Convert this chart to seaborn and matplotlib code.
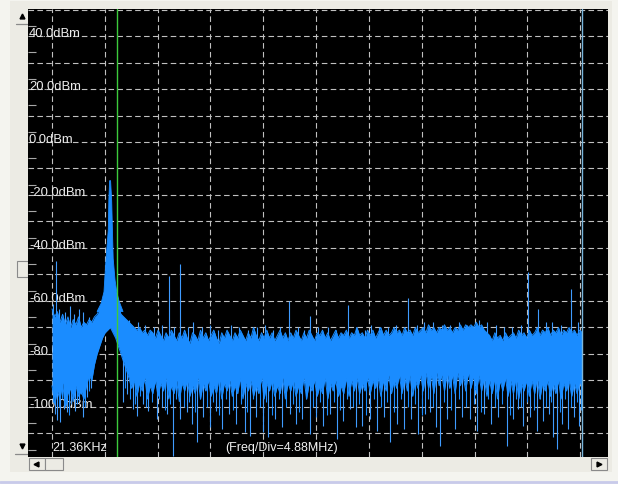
import numpy as np
import matplotlib
matplotlib.use("Agg")
import matplotlib.pyplot as plt
from matplotlib.patches import Rectangle
import seaborn as sns

# ---------------------------------------------------------------
# DATA  (MHz / dBm)
# ---------------------------------------------------------------
# Noise floor band, one bin every 0.245 MHz (0 .. 49 MHz)
band_freq = np.linspace(0, 49.0, 201)
band_top = [
    -63, -66, -64, -68, -65, -69, -66, -70, -67, -69,
    -66, -70, -68, -69, -67, -68, -66, -65, -63, -61,
    -58, -52, -45, -53, -59, -62, -65, -66, -67, -68,
    -69, -70, -71, -70, -72, -71, -73, -71, -72, -74,
    -71, -73, -75, -72, -74, -71, -73, -75, -72, -74,
    -71, -74, -76, -72, -73, -75, -71, -74, -72, -75,
    -73, -71, -74, -76, -72, -74, -71, -73, -75, -72,
    -74, -71, -73, -75, -72, -74, -70, -73, -75, -72,
    -74, -71, -74, -72, -75, -73, -71, -74, -72, -75,
    -72, -74, -71, -73, -75, -72, -74, -71, -73, -75,
    -72, -73, -71, -74, -72, -75, -73, -71, -74, -72,
    -73, -71, -74, -72, -73, -70, -73, -72, -74, -71,
    -73, -71, -74, -72, -70, -73, -71, -73, -72, -70,
    -72, -71, -73, -70, -72, -71, -73, -70, -72, -71,
    -70, -72, -69, -71, -70, -72, -70, -71, -69, -71,
    -70, -72, -70, -71, -69, -71, -69, -70, -69, -70,
    -68, -70, -69, -71, -72, -73, -75, -72, -74, -73,
    -75, -72, -74, -73, -72, -74, -71, -73, -72, -74,
    -71, -73, -72, -70, -73, -71, -72, -70, -73, -71,
    -72, -70, -73, -71, -72, -70, -72, -71, -73, -71,
    -72]
band_bot = [
    -92, -99, -94, -97, -91, -100, -95, -93, -98, -92,
    -96, -94, -97, -92, -88, -90, -84, -80, -77, -74,
    -72, -71, -70, -72, -74, -77, -80, -83, -86, -89,
    -93, -90, -96, -91, -94, -89, -97, -92, -95, -90,
    -96, -91, -94, -89, -97, -92, -95, -90, -98, -91,
    -94, -90, -96, -92, -95, -89, -97, -91, -94, -90,
    -96, -92, -95, -89, -97, -91, -94, -90, -96, -92,
    -95, -89, -97, -91, -94, -90, -96, -92, -95, -89,
    -97, -91, -94, -90, -96, -92, -95, -89, -97, -91,
    -94, -90, -96, -92, -95, -89, -97, -91, -94, -90,
    -96, -92, -95, -89, -97, -91, -94, -90, -96, -92,
    -95, -89, -96, -90, -94, -89, -95, -91, -94, -89,
    -95, -90, -93, -89, -96, -90, -94, -88, -95, -90,
    -93, -88, -95, -89, -94, -88, -96, -90, -93, -88,
    -94, -87, -93, -88, -95, -87, -92, -88, -94, -87,
    -93, -88, -95, -87, -92, -88, -94, -87, -93, -88,
    -95, -88, -94, -89, -96, -90, -95, -89, -97, -90,
    -94, -89, -96, -90, -95, -89, -97, -91, -94, -90,
    -96, -90, -95, -89, -97, -91, -94, -90, -96, -91,
    -95, -90, -97, -91, -94, -90, -96, -91, -95, -90,
    -93]

# Carrier peak
peak_freq = [4.16, 4.53, 4.80, 4.99, 5.11, 5.20, 5.25, 5.32,
             5.41, 5.51, 5.58, 5.65, 5.82, 5.98, 6.19, 6.56]
peak_db = [-64, -61, -56.6, -44, -38, -33, -22, -14.6,
           -14.6, -22, -33, -44, -52, -56.6, -60, -64]

# Spurs sticking up out of the floor
spur_freq = [0.09, 0.37, 0.65, 1.20, 1.65, 2.00, 2.45, 2.90, 3.40,
             7.10, 7.90, 8.60, 9.40, 10.20, 10.81, 11.30, 11.83, 12.60, 13.00,
             13.90, 14.60, 15.30, 16.50, 17.30, 18.10, 18.90, 19.70, 20.40, 21.10,
             21.90, 22.70, 23.30, 23.84, 24.60, 25.50, 26.20, 27.35, 28.10, 28.90,
             29.50, 30.20, 31.00, 31.80, 32.90, 33.70, 34.40, 35.20, 36.00, 36.80,
             37.60, 38.30, 39.45, 40.20, 41.00, 41.80, 42.50, 43.30, 44.00, 44.90,
             45.60, 46.20, 47.00, 47.95, 48.60]
spur_db = [-61, -45, -63, -64, -62, -65, -63, -64, -66,
           -67, -68, -69, -70, -69, -50.5, -70, -46, -70, -68,
           -70, -69, -71, -69, -70, -71, -70, -69, -71, -70,
           -60, -70, -71, -65.6, -70, -70, -71, -61.5, -70, -71,
           -69, -70, -70, -69, -59, -69, -68, -68, -69, -69,
           -68, -69, -67, -68, -69, -70, -70, -69, -49, -63,
           -68, -68, -69, -55.5, -68]

# Deep dips going down out of the floor
dip_freq = [0.28, 0.46, 0.74, 1.11, 1.39, 1.76, 2.13, 2.50, 2.86, 3.23, 3.60,
            6.56, 6.93, 7.48, 7.85, 8.41, 8.87, 9.70, 10.16, 10.63, 11.18,
            11.83, 12.47, 12.94, 13.40, 13.95, 14.60, 15.15, 15.71, 16.35, 17.00,
            17.83, 18.30, 18.85, 19.50, 19.96, 20.61, 21.25, 21.99, 22.55, 23.10,
            23.84, 24.39, 25.04, 25.69, 26.33, 26.89, 27.54, 28.09, 28.64, 29.38,
            30.03, 30.68, 31.23, 31.88, 32.52, 33.17, 33.82, 34.47, 34.93, 35.48,
            35.85, 36.50, 37.24, 37.88, 38.62, 39.27, 39.92, 40.56, 41.21, 42.04,
            42.60, 43.06, 43.52, 44.17, 44.81, 45.37, 45.92, 46.29, 46.66, 47.12,
            47.68, 48.23, 48.69]
dip_db = [-102.6, -104.9, -105.7, -100.8, -101.9, -98.9, -101.5, -97.7, -103.8, -96.2, -93,
          -98.1, -95, -100.8, -103.4, -98.9, -101.5, -104.5, -100, -102.6, -118.5,
          -104.5, -101.9, -106.4, -113.2, -103.8, -107.5, -101.5, -108.3, -102.6, -106.4,
          -109.4, -110.9, -103.8, -109.4, -111.3, -104.5, -107.5, -102.6, -106.4, -104.5,
          -110.2, -103.8, -107.2, -102.6, -112.1, -105.3, -100.8, -107.5, -107.2, -104.5,
          -109.1, -103.8, -113.2, -106.4, -108.3, -104.5, -110.2, -102.6, -101.9, -107.5,
          -114.7, -104.5, -108.3, -103.8, -104.5, -109.1, -102.6, -106.4, -103.8, -114.7,
          -104.5, -100.8, -107.2, -103.8, -109.1, -105.3, -102.6, -111.3, -115.8, -106.4,
          -108.3, -103.8, -107.2]

# Shorter dips filling the forest under the floor
short_dip_freq = [0.10, 0.60, 0.92, 1.25, 1.58, 1.95, 2.32, 2.68, 3.05, 3.42,
                  6.75, 7.20, 7.66, 8.13, 8.64, 9.28, 9.93, 10.40, 10.90, 11.50,
                  12.15, 12.70, 13.17, 13.68, 14.28, 14.88, 15.43, 16.03, 16.68, 17.42,
                  18.06, 18.58, 19.18, 19.73, 20.28, 20.93, 21.62, 22.27, 22.83, 23.47,
                  24.12, 24.72, 25.37, 26.01, 26.61, 27.22, 27.82, 28.37, 29.01, 29.71,
                  30.36, 30.96, 31.56, 32.20, 32.85, 33.50, 34.15, 34.70, 35.20, 36.18,
                  36.87, 37.56, 38.25, 38.95, 39.60, 40.24, 40.89, 41.62, 42.32, 42.83,
                  43.29, 43.85, 44.49, 45.09, 45.65, 46.10, 46.89, 47.40, 47.96, 48.46,
                  48.90]
short_dip_db = [-98, -100, -97, -99, -103, -96, -99, -95, -100, -94,
                -93, -97, -99, -96, -100, -98, -97, -101, -99, -97,
                -100, -98, -102, -97, -100, -98, -103, -97, -101, -99,
                -102, -97, -100, -98, -103, -97, -100, -99, -102, -97,
                -100, -98, -103, -98, -101, -97, -100, -99, -103, -97,
                -100, -98, -102, -97, -100, -99, -103, -97, -100, -98,
                -101, -97, -100, -99, -102, -97, -100, -99, -103, -97,
                -100, -98, -101, -97, -100, -98, -102, -97, -100, -98,
                -101]

# Screen annotations
level_labels = ["40.0dBm", "20.0dBm", "0.0dBm", "-20.0dBm",
                "-40.0dBm", "-60.0dBm", "-80.0dBm", "-100.0dBm"]
level_values = [40, 20, 0, -20, -40, -60, -80, -100]
grid_db = [-110, -100, -90, -80, -70, -60, -50, -40, -30, -20,
           -10, 0, 10, 20, 30, 40, 50]
scale_ticks = [43.8, 33.8, 23.8, 13.8, 3.8, -6.2, -16.2, -26.2, -36.2,
               -46.2, -56.2, -66.2, -76.2, -86.2, -96.2, -106.2, -116.2]
freq_div = 4.88
start_label = "21.36KHz"
div_label = "(Freq/Div=4.88MHz)"
marker_green = 6.0
marker_blue = 49.0

# ---------------------------------------------------------------
# STYLE
# ---------------------------------------------------------------
sns.set_theme(style="dark")
plt.rcParams["font.family"] = ["Liberation Sans", "DejaVu Sans"]

trace = "#1A8CFF"
trace_lt = "#3F9BFF"
grid_col = "#C0C0C0"

fig = plt.figure(figsize=(6.18, 4.85), dpi=100)
fig.patch.set_facecolor("#F4F4EF")

# window chrome (pixel coords)
bg = fig.add_axes([0, 0, 1, 1])
bg.set_xlim(0, 618)
bg.set_ylim(485, 0)
bg.axis("off")
bg.add_patch(Rectangle((10, 2), 602, 471, facecolor="#ECEBE4", edgecolor="none"))
bg.axhline(483, color="#C8CAEA", lw=2)
# left scroll column
bg.plot([22], [17], marker="^", ms=3.5, color="black")
bg.plot([16, 28], [25, 25], color="#8A8A8A", lw=0.9)
bg.add_patch(Rectangle((17, 262), 11, 16, facecolor="#ECEBE4", edgecolor="#8A8A8A", lw=0.8))
bg.plot([22], [447], marker="v", ms=3.5, color="black")
bg.plot([15, 28], [455, 455], color="#8A8A8A", lw=0.9)
# bottom scroll bar
bg.add_patch(Rectangle((29, 459), 16, 12, facecolor="#ECEBE4", edgecolor="#8A8A8A", lw=0.8))
bg.add_patch(Rectangle((45, 459), 18, 12, facecolor="#ECEBE4", edgecolor="#8A8A8A", lw=0.8))
bg.plot([36], [465], marker="<", ms=3.5, color="black")
bg.add_patch(Rectangle((591, 459), 16, 12, facecolor="#ECEBE4", edgecolor="#8A8A8A", lw=0.8))
bg.plot([599], [465], marker=">", ms=3.5, color="black")

# ---------------------------------------------------------------
# SPECTRUM SCREEN
# ---------------------------------------------------------------
ax = fig.add_axes([28 / 618, 27 / 485, 580 / 618, 448 / 485])
ax.set_facecolor("black")
ax.set_xlim(-2.22, 51.37)
ax.set_ylim(-118.9, 50.2)
for s in ax.spines.values():
    s.set_visible(False)

# dashed graticule
ax.set_xticks(np.arange(11) * freq_div)
ax.set_yticks(grid_db)
ax.set_axisbelow(True)
ax.grid(True, color=grid_col, lw=0.8, ls=(0, (5, 3)))
ax.tick_params(which="major", length=0, labelbottom=False, labelleft=False)
ax.set_yticks(scale_ticks, minor=True)
ax.tick_params(which="minor", axis="y", direction="in", length=6,
               width=0.8, color="#A8A8A8", left=True)

# level labels (under the trace)
for lab, lv in zip(level_labels, level_values):
    ax.text(-2.13, lv + 1.1, lab, color="#EDEDED", fontsize=9.4,
            ha="left", va="center", zorder=2)

# spurs and dips sit behind the solid band
ax.vlines(spur_freq, -75, spur_db, color=trace_lt, lw=0.8, zorder=2.5)
ax.vlines(dip_freq, dip_db, -80, color=trace_lt, lw=0.8, zorder=2.5)
ax.vlines(short_dip_freq, short_dip_db, -80, color=trace, lw=0.8, zorder=2.5)

# trace
ax.fill_between(band_freq, band_bot, band_top, color=trace, lw=0, zorder=3)
sns.lineplot(x=band_freq, y=band_top, color=trace, lw=0.7, ax=ax, zorder=3)
sns.lineplot(x=band_freq, y=band_bot, color=trace, lw=0.7, ax=ax, zorder=3)
ax.fill(peak_freq, peak_db, color=trace, lw=0.6, zorder=3)

# markers
ax.axvline(marker_green, color="#3CCB3C", lw=1.0, zorder=4)
ax.axvline(marker_blue, color="#7AB6DC", lw=1.0, zorder=4)

# bottom annotations
ax.text(0, -115.1, start_label, color="#F0F0F0", fontsize=9,
        ha="left", va="center", zorder=5)
ax.text(16.0, -115.1, div_label, color="#F0F0F0", fontsize=9,
        ha="left", va="center", zorder=5)
ax.set_xlabel("")
ax.set_ylabel("")

fig.savefig("out.png", dpi=100, facecolor=fig.get_facecolor())
